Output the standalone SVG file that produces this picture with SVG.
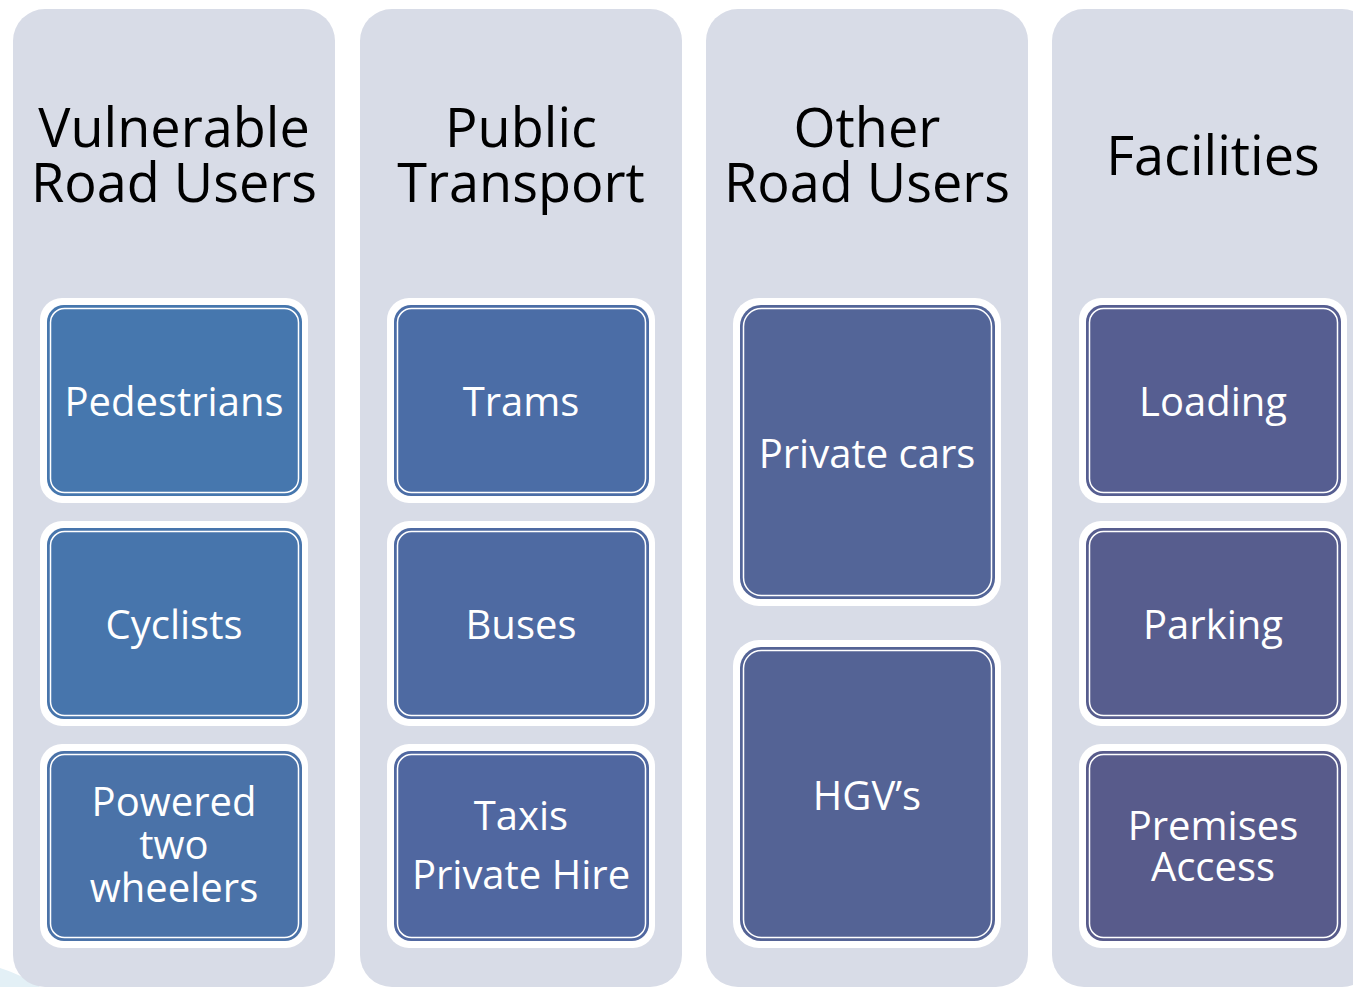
<svg xmlns="http://www.w3.org/2000/svg" width="1353" height="987" viewBox="0 0 1353 987">
  <style>
    .col { fill: #d8dce7; }
    .head { font-family: "Open Sans", "Liberation Sans", sans-serif; font-size: 54px; fill: #000; text-anchor: middle; }
    .outer { fill: #ffffff; }
    .inner { fill: none; stroke: #ffffff; stroke-width: 1.5; }
    .lbl { font-family: "Open Sans", "Liberation Sans", sans-serif; font-size: 40px; fill: #ffffff; text-anchor: middle; }
  </style>
  <rect width="1353" height="987" fill="#ffffff"/>
  <!-- faint decorative swoosh in the lower left corner -->
  <path d="M0,968 Q20,974 40,987 L0,987 Z" fill="#e3f0f6"/>

  <!-- columns -->
  <g id="col-vulnerable">
    <rect class="col" x="13" y="9" width="322" height="978" rx="32"/>
    <text class="head" x="174" y="147">Vulnerable</text>
    <text class="head" x="174" y="202">Road Users</text>
  </g>
  <g id="col-public">
    <rect class="col" x="360" y="9" width="322" height="978" rx="32"/>
    <text class="head" x="521" y="147">Public</text>
    <text class="head" x="521" y="202">Transport</text>
  </g>
  <g id="col-other">
    <rect class="col" x="706" y="9" width="322" height="978" rx="32"/>
    <text class="head" x="867" y="147">Other</text>
    <text class="head" x="867" y="202">Road Users</text>
  </g>
  <g id="col-facilities">
    <rect class="col" x="1052" y="9" width="322" height="978" rx="32"/>
    <text class="head" x="1213" y="175">Facilities</text>
  </g>

  <!-- column 1 items -->
  <g id="pedestrians">
    <rect class="outer" x="40" y="298" width="268" height="205" rx="22"/>
    <rect x="47" y="305" width="255" height="191" rx="17" fill="#4677ae"/>
    <rect class="inner" x="50.5" y="308.5" width="248" height="184" rx="14"/>
    <text class="lbl" x="174" y="416">Pedestrians</text>
  </g>
  <g id="cyclists">
    <rect class="outer" x="40" y="521" width="268" height="205" rx="22"/>
    <rect x="47" y="528" width="255" height="191" rx="17" fill="#4775ac"/>
    <rect class="inner" x="50.5" y="531.5" width="248" height="184" rx="14"/>
    <text class="lbl" x="174" y="639">Cyclists</text>
  </g>
  <g id="powered-two-wheelers">
    <rect class="outer" x="40" y="744" width="268" height="204" rx="22"/>
    <rect x="47" y="751" width="255" height="190" rx="17" fill="#4a72a8"/>
    <rect class="inner" x="50.5" y="754.5" width="248" height="183" rx="14"/>
    <text class="lbl" x="174" y="816">Powered</text>
    <text class="lbl" x="174" y="859">two</text>
    <text class="lbl" x="174" y="902">wheelers</text>
  </g>

  <!-- column 2 items -->
  <g id="trams">
    <rect class="outer" x="387" y="298" width="268" height="205" rx="22"/>
    <rect x="394" y="305" width="255" height="191" rx="17" fill="#4b6da6"/>
    <rect class="inner" x="397.5" y="308.5" width="248" height="184" rx="14"/>
    <text class="lbl" x="521" y="416">Trams</text>
  </g>
  <g id="buses">
    <rect class="outer" x="387" y="521" width="268" height="205" rx="22"/>
    <rect x="394" y="528" width="255" height="191" rx="17" fill="#4e6aa2"/>
    <rect class="inner" x="397.5" y="531.5" width="248" height="184" rx="14"/>
    <text class="lbl" x="521" y="639">Buses</text>
  </g>
  <g id="taxis">
    <rect class="outer" x="387" y="744" width="268" height="204" rx="22"/>
    <rect x="394" y="751" width="255" height="190" rx="17" fill="#5067a0"/>
    <rect class="inner" x="397.5" y="754.5" width="248" height="183" rx="14"/>
    <text class="lbl" x="521" y="830">Taxis</text>
    <text class="lbl" x="521" y="889">Private Hire</text>
  </g>

  <!-- column 3 items -->
  <g id="private-cars">
    <rect class="outer" x="733" y="298" width="268" height="308" rx="26"/>
    <rect x="740" y="305" width="255" height="294" rx="21" fill="#536598"/>
    <rect class="inner" x="743.5" y="308.5" width="248" height="287" rx="18"/>
    <text class="lbl" x="867" y="468">Private cars</text>
  </g>
  <g id="hgvs">
    <rect class="outer" x="733" y="640" width="268" height="308" rx="26"/>
    <rect x="740" y="647" width="255" height="294" rx="21" fill="#546395"/>
    <rect class="inner" x="743.5" y="650.5" width="248" height="287" rx="18"/>
    <text class="lbl" x="867" y="810">HGV’s</text>
  </g>

  <!-- column 4 items -->
  <g id="loading">
    <rect class="outer" x="1079" y="298" width="268" height="205" rx="22"/>
    <rect x="1086" y="305" width="255" height="191" rx="17" fill="#565e91"/>
    <rect class="inner" x="1089.5" y="308.5" width="248" height="184" rx="14"/>
    <text class="lbl" x="1213" y="416">Loading</text>
  </g>
  <g id="parking">
    <rect class="outer" x="1079" y="521" width="268" height="205" rx="22"/>
    <rect x="1086" y="528" width="255" height="191" rx="17" fill="#575d8e"/>
    <rect class="inner" x="1089.5" y="531.5" width="248" height="184" rx="14"/>
    <text class="lbl" x="1213" y="639">Parking</text>
  </g>
  <g id="premises-access">
    <rect class="outer" x="1079" y="744" width="268" height="204" rx="22"/>
    <rect x="1086" y="751" width="255" height="190" rx="17" fill="#585b8b"/>
    <rect class="inner" x="1089.5" y="754.5" width="248" height="183" rx="14"/>
    <text class="lbl" x="1213" y="840">Premises</text>
    <text class="lbl" x="1213" y="881">Access</text>
  </g>

  <!-- no connectors are drawn between the items -->
  <g id="connectors"/>
</svg>
